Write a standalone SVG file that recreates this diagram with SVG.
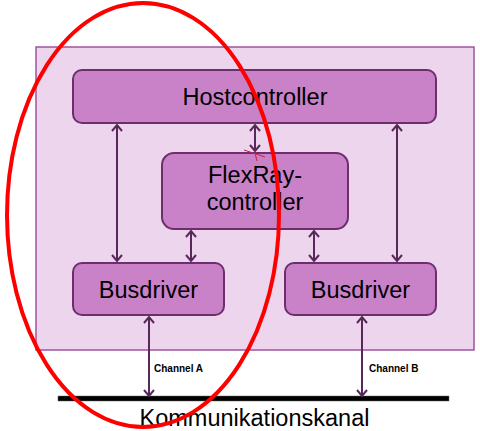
<svg xmlns="http://www.w3.org/2000/svg" width="480" height="431" viewBox="0 0 480 431">
  <style>
    .node rect { fill: #c982c8; stroke: #6e2e6e; stroke-width: 2; }
    .label { font-family: "Liberation Sans", Arial, sans-serif; font-size: 23.5px; fill: #000; text-anchor: middle; }
    .conn line { stroke: #58285a; stroke-width: 2; marker-start: url(#ah); marker-end: url(#ah); }
    .chan { font-family: "Liberation Sans", Arial, sans-serif; font-size: 10px; font-weight: bold; fill: #000; }
  </style>
  <defs>
    <marker id="ah" markerUnits="userSpaceOnUse" viewBox="-8 -7 10 14" refX="0" refY="0" markerWidth="10" markerHeight="14" orient="auto-start-reverse">
      <path d="M-6,-5 L0,0 L-6,5" fill="none" stroke="#58285a" stroke-width="2"/>
    </marker>
  </defs>
  <rect width="480" height="431" fill="#fff"/>
  <g id="system">
    <rect x="36" y="47" width="438" height="303" fill="#edd5ed" stroke="#a053a0" stroke-width="1.5"/>
  </g>
  <g id="hostcontroller" class="node">
    <rect x="73" y="70" width="363" height="53" rx="9"/>
    <text class="label" x="255" y="105">Hostcontroller</text>
  </g>
  <g id="flexray" class="node">
    <rect x="162" y="153" width="186" height="76" rx="12"/>
    <text class="label" x="255" y="183">FlexRay-</text>
    <text class="label" x="255" y="210">controller</text>
  </g>
  <g id="busdriverA" class="node">
    <rect x="73" y="263" width="151" height="52" rx="9"/>
    <text class="label" x="148.5" y="298">Busdriver</text>
  </g>
  <g id="busdriverB" class="node">
    <rect x="285" y="263" width="151" height="52" rx="9"/>
    <text class="label" x="360.5" y="298">Busdriver</text>
  </g>
  <g id="bus">
    <rect x="58" y="396" width="391" height="5" fill="#000" stroke="#666" stroke-width="0.5"/>
    <text class="label" x="254.5" y="426">Kommunikationskanal</text>
  </g>
  <g id="connectors" class="conn">
    <line x1="117" y1="125" x2="117" y2="261"/>
    <line x1="255" y1="125" x2="255" y2="151"/>
    <line x1="397" y1="125" x2="397" y2="261"/>
    <line x1="191" y1="231" x2="191" y2="261"/>
    <line x1="314" y1="231" x2="314" y2="261"/>
    <line x1="149" y1="317" x2="149" y2="396"/>
    <line x1="362" y1="317" x2="362" y2="396"/>
  </g>
  <g id="channel-labels">
    <text class="chan" x="154" y="372">Channel A</text>
    <text class="chan" x="369" y="372">Channel B</text>
  </g>
  <g id="annotation">
    <path d="M244,150 L265,157 M255,153 L257,161" fill="none" stroke="#d0203a" stroke-width="1"/>
    <ellipse cx="143" cy="215" rx="136" ry="212" fill="none" stroke="#ff0000" stroke-width="4"/>
  </g>
</svg>
